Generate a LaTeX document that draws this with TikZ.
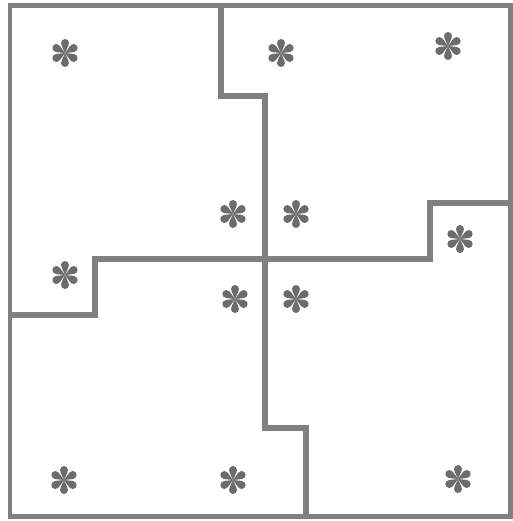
\documentclass[tikz,border=0pt]{standalone}
\definecolor{wallgray}{RGB}{128,128,128}
\definecolor{flowergray}{RGB}{108,108,108}
\begin{document}
\begin{tikzpicture}[x=0.02cm,y=-0.02cm,
 wall/.style={draw=wallgray,line width=0.12cm},
 outer/.style={draw=wallgray,line width=0.1cm},
 flw/.pic={\foreach \a in {90,150,...,390}{\fill[flowergray] (0,0)--({\a+24}:9.2)--({\a-24}:9.2)--cycle;\fill[flowergray] (\a:10) circle (4);}}]
\useasboundingbox (0,0) rectangle (513,521);
\draw[outer] (10,5) rectangle (510,516);
\draw[wall] (221,5)--(221,96)--(264.5,96)--(264.5,428)--(306,428)--(306,516);
\draw[wall] (10,315)--(95,315)--(95,259)--(430,259)--(430,203)--(510,203);
\foreach \p in {(65,53),(233,214),(281,53),(448,46),(296,214),(460,239),(65,275),(235,299),(64,480),(233,480),(296,299),(458,479)}
 \pic at \p {flw};
\end{tikzpicture}
\end{document}
